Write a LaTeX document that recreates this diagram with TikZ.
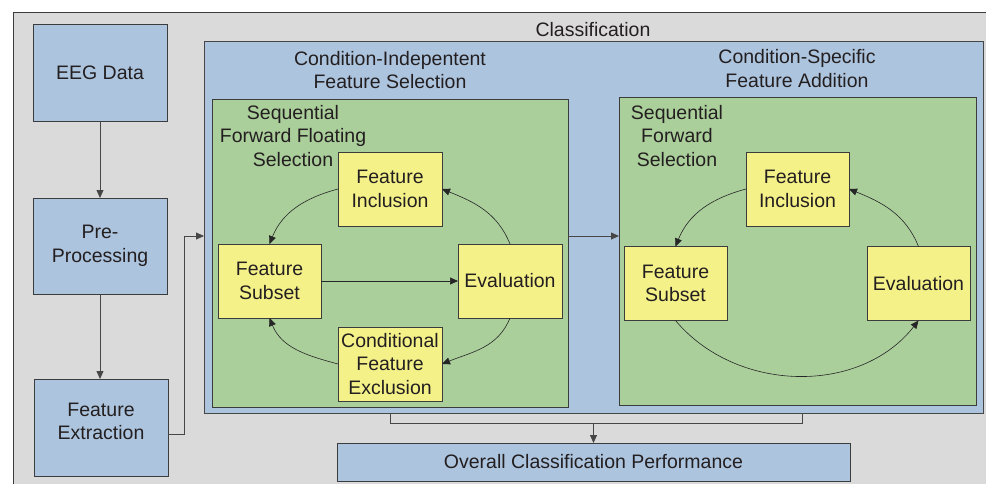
\documentclass[tikz,border=0pt]{standalone}
\usepackage{fontspec}
\setmainfont{Liberation Sans}
\usetikzlibrary{arrows.meta}
\definecolor{grayF}{RGB}{219,218,219}
\definecolor{blueF}{RGB}{173,196,222}
\definecolor{greenF}{RGB}{171,207,155}
\definecolor{yellowF}{RGB}{245,241,137}
\definecolor{bord}{RGB}{60,60,60}
\definecolor{linec}{RGB}{70,70,70}
\definecolor{txt}{RGB}{35,31,32}
\tikzset{
  base/.style={inner sep=0pt, outer sep=0pt, text=txt, align=center,
    font=\fontsize{19.5}{23.4}\selectfont},
  bbox/.style={base, draw=bord, line width=0.9pt, fill=blueF},
  gbox/.style={base, draw=bord, line width=0.9pt, fill=greenF},
  ybox/.style={base, draw=bord, line width=1pt, fill=yellowF,
    minimum width=104pt, minimum height=74pt},
  lbl/.style={base},
  arr/.style={draw=linec, line width=0.8pt, -{Triangle[length=8pt,width=7pt]}},
  ln/.style={draw=linec, line width=0.8pt},
  carr/.style={draw=black!85, line width=0.6pt, -{Triangle[length=8pt,width=7pt]}}
}
\begin{document}
\begin{tikzpicture}[x=1pt,y=-1pt]
\useasboundingbox (0,0) rectangle (986,483);
\clip (0,0) rectangle (986,483);
\fill[white] (0,0) rectangle (986,483);
% outer gray area
\path[fill=grayF, draw=bord, line width=0.9pt] (13,12) rectangle (1000,500);
% classification blue box
\node[bbox, draw=linec, minimum width=779pt, minimum height=372pt] (cls) at (593.5,227) {};
\node[lbl] (clsl) at (593,30) {Classification};
% left column
\node[bbox, minimum width=134pt, minimum height=97pt] (eeg) at (100,72.5) {EEG Data};
\node[bbox, minimum width=134pt, minimum height=96pt] (pre) at (100,246) {Pre-\\Processing};
\node[bbox, minimum width=134pt, minimum height=97pt] (fe) at (101,427.5) {};
\node[lbl] (fel) at (101,421.5) {Feature\\Extraction};
\draw[arr] (eeg.south) -- (pre.south |- pre.north);
\draw[arr] (pre.south) -- (pre.south |- fe.north);
\coordinate (fe1) at (184,434);
\coordinate (ent) at (204,236);
\draw[arr] (fe.east |- fe1) -- (fe1) |- (ent);
% section titles
\node[lbl] (cit) at (390,70) {Condition-Indepentent\\Feature Selection};
\node[lbl] (cst) at (797,68.5) {Condition-Specific\\Feature Addition};
% green boxes
\node[gbox, minimum width=356pt, minimum height=308pt] (g1) at (390,253) {};
\node[gbox, minimum width=357pt, minimum height=308pt] (g2) at (797.5,251) {};
\node[lbl] (g1l) at (293,136) {Sequential\\Forward Floating\\Selection};
\node[lbl] (g2l) at (677,136) {Sequential\\Forward\\Selection};
\coordinate (mid) at (590,236);
\draw[arr] (g1.east |- mid) -- (g2.west |- mid);
% left loop
\node[ybox] (fi1) at (390,189) {Feature\\Inclusion};
\node[ybox, minimum width=103pt] (fs1) at (269.5,281) {Feature\\Subset};
\node[ybox] (ev1) at (510,281) {Evaluation};
\node[ybox] (ce1) at (390,364) {Conditional\\Feature\\Exclusion};
\draw[carr] (fi1.west) to[out=195,in=68] (fs1.north);
\draw[carr] (ev1.north) to[out=112,in=-22] (fi1.east);
\draw[carr] (fs1.east) -- (ev1.west);
\draw[carr] (ev1.south) to[out=-112,in=22] (ce1.east);
\draw[carr] (ce1.west) to[out=165,in=-68] (fs1.south);
% right loop
\node[ybox, minimum width=103pt] (fi2) at (797.5,189) {Feature\\Inclusion};
\node[ybox, minimum width=103pt] (fs2) at (675.5,283.5) {Feature\\Subset};
\node[ybox, minimum width=103pt] (ev2) at (918.5,283.5) {Evaluation};
\draw[carr] (fi2.west) to[out=195,in=68] (fs2.north);
\draw[carr] (ev2.north) to[out=112,in=-22] (fi2.east);
\draw[carr] (fs2.south) to[out=-50,in=-128] (ev2.south);
% bottom
\node[bbox, minimum width=513pt, minimum height=38pt] (ocp) at (593.5,462) {Overall Classification Performance};
\coordinate (jl) at (390,423);
\coordinate (jr) at (802,423);
\draw[ln] (jl |- cls.south) -- (jl) -- (jr) -- (jr |- cls.south);
\draw[arr] (ocp.north |- jl) -- (ocp.north);
\end{tikzpicture}
\end{document}
